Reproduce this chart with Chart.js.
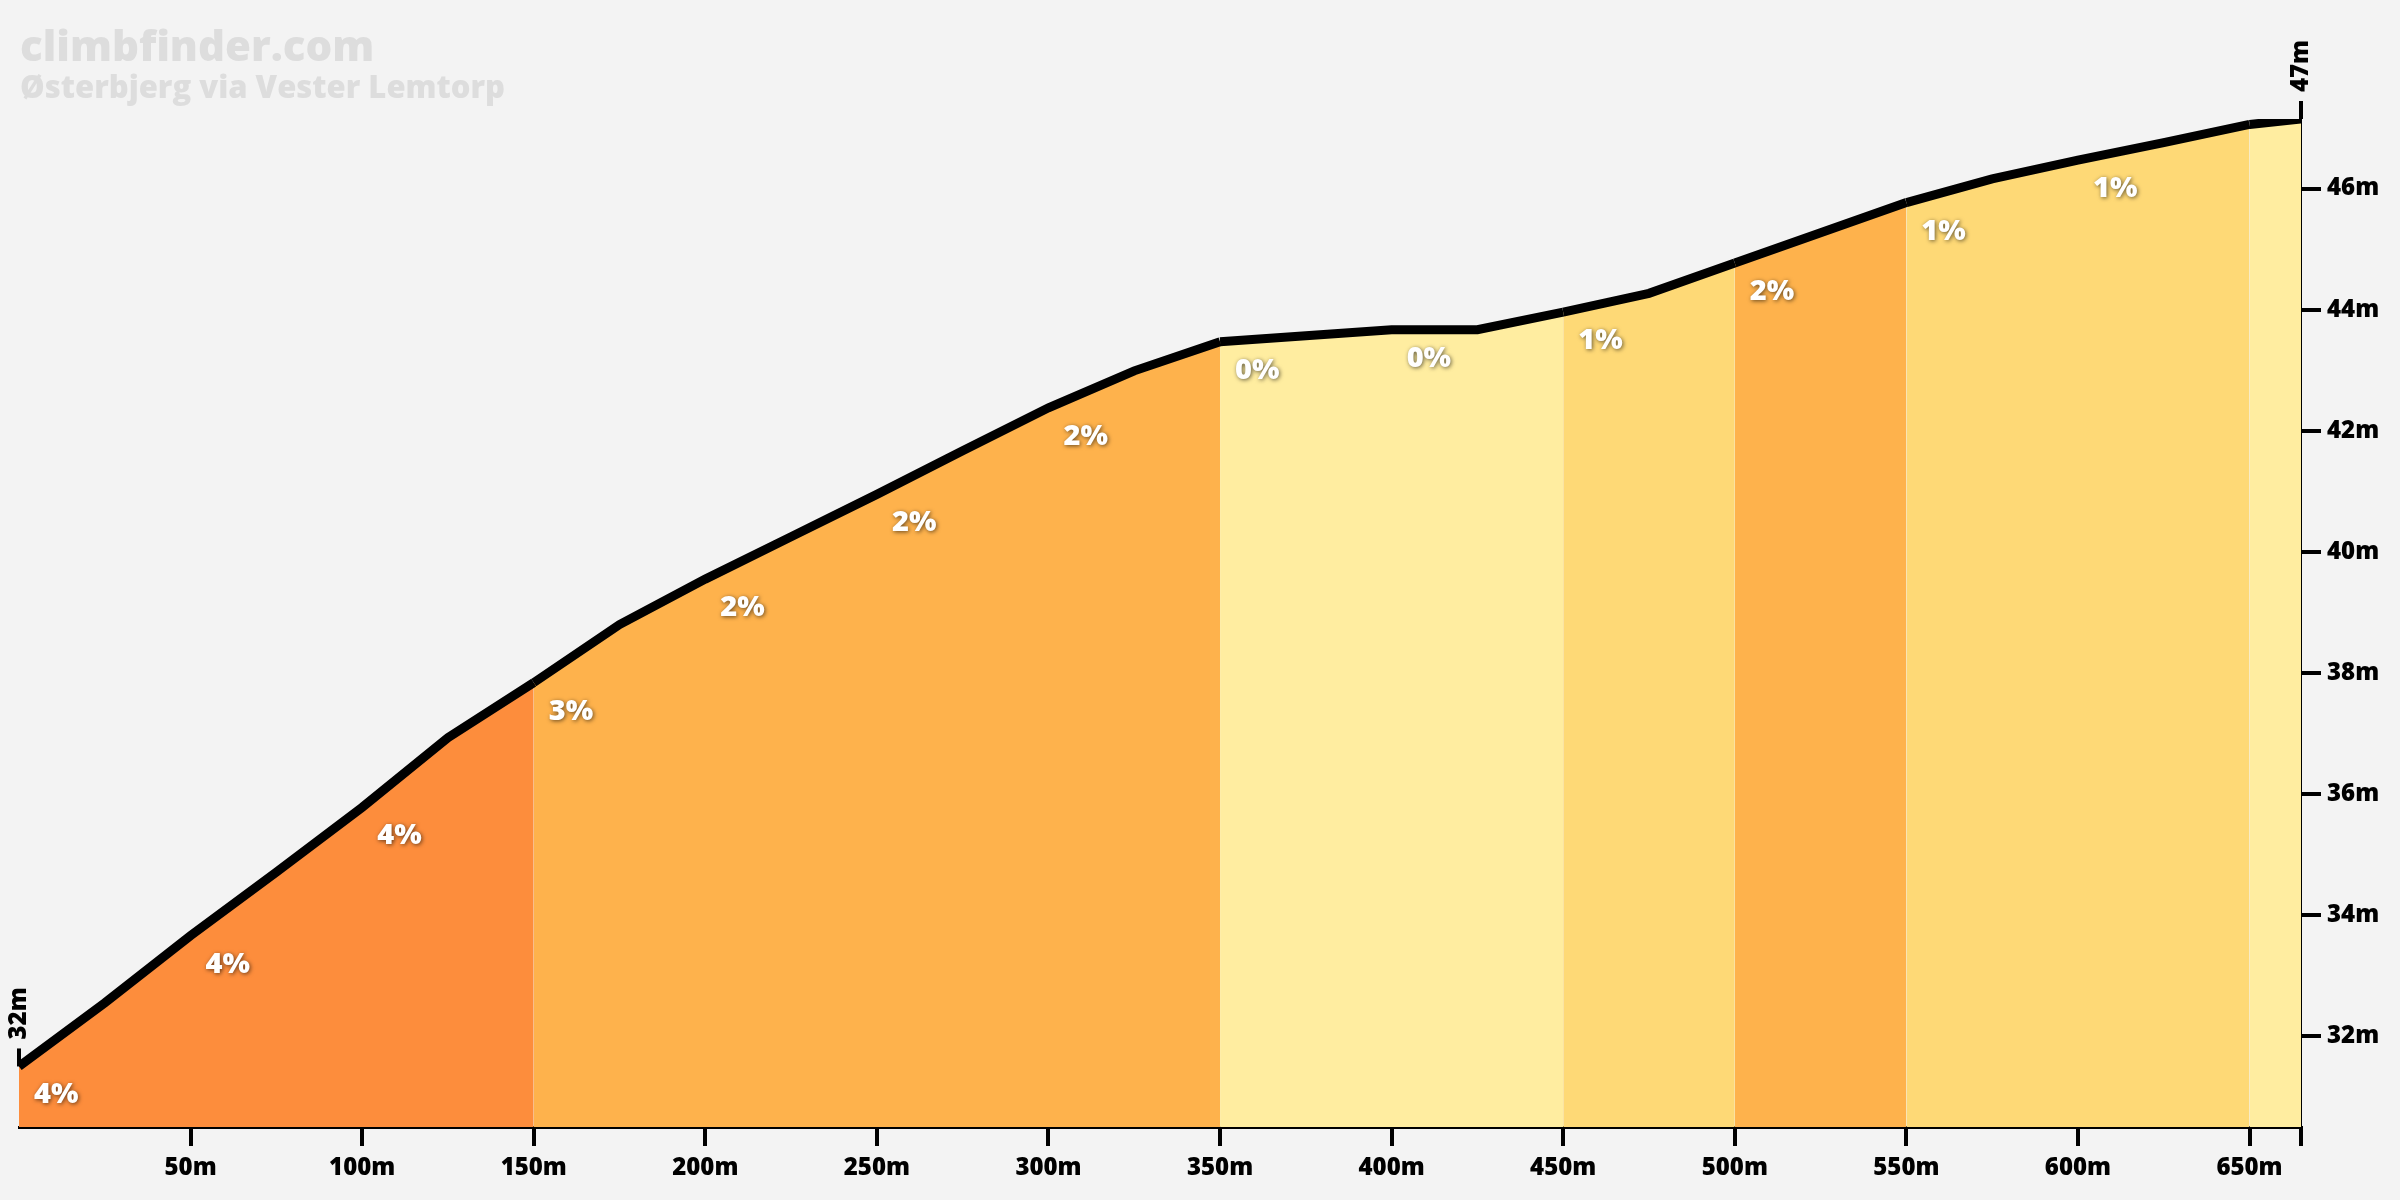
<!DOCTYPE html>
<html>
<head>
<meta charset="utf-8">
<script src="https://cdn.jsdelivr.net/npm/chart.js@4.4.1/dist/chart.umd.min.js"></script>
<style>
  html, body { margin: 0; padding: 0; background: #f3f3f3; }
  #wrap { width: 2400px; height: 1200px; }
</style>
</head>
<body>
<div id="wrap"><canvas id="profile" width="2400" height="1200"></canvas></div>
<script>
// profile points: distance (m) and elevation (m)
const distances = [0, 25, 50, 75, 100, 125, 150, 175, 200, 225, 250, 275, 300, 325, 350,
  375, 400, 425, 450, 475, 500, 525, 550, 575, 600, 625, 650, 665];
const elevations = [31.5, 32.55, 33.66, 34.71, 35.78, 36.93, 37.84, 38.8, 39.55, 40.25, 40.95, 41.67,
  42.38, 42.99, 43.47, 43.57, 43.67, 43.67, 43.96, 44.27, 44.77, 45.27, 45.77, 46.16, 46.47, 46.76, 47.06, 47.15];

// 50m sections and their gradient (%)
const sectionStarts = [0, 50, 100, 150, 200, 250, 300, 350, 400, 450, 500, 550, 600, 650];
const sectionGrades = [4, 4, 4, 3, 2, 2, 2, 0, 0, 1, 2, 1, 1, 0];

const xTickValues = [50, 100, 150, 200, 250, 300, 350, 400, 450, 500, 550, 600, 650, 665];
const xTickLabels = ["50m", "100m", "150m", "200m", "250m", "300m", "350m", "400m", "450m", "500m", "550m", "600m", "650m", ""];
const yTickValues = [32, 34, 36, 38, 40, 42, 44, 46];

const siteName = "climbfinder.com";
const climbName = "Østerbjerg via Vester Lemtorp";
const startLabel = "32m";
const endLabel = "47m";

const FONT = "'Open Sans', 'DejaVu Sans', sans-serif";

function gradeColor(g) {
  if (g >= 4) return "#fd8d3c";
  if (g >= 2) return "#feb24c";
  if (g >= 1) return "#fed976";
  return "#ffeda0";
}

function sectionIndex(x) {
  let idx = 0;
  for (let i = 0; i < sectionStarts.length; i++) {
    if (sectionStarts[i] <= x + 1e-6) idx = i;
  }
  return idx;
}

const overlay = {
  id: "overlay",
  beforeDraw(chart) {
    const ctx = chart.ctx;
    ctx.save();
    ctx.fillStyle = "#dddddd";
    ctx.textBaseline = "alphabetic";
    ctx.textAlign = "left";
    ctx.font = "800 42px " + FONT;
    ctx.fillText(siteName, 20, 61);
    ctx.font = "800 31px " + FONT;
    ctx.fillText(climbName, 20, 98);
    ctx.restore();
  },
  afterDatasetsDraw(chart) {
    const ctx = chart.ctx;
    const xs = chart.scales.x, ys = chart.scales.y;

    // gradient labels at start of each full section
    ctx.save();
    ctx.font = "800 29px " + FONT;
    ctx.fillStyle = "#ffffff";
    ctx.textAlign = "left";
    ctx.textBaseline = "alphabetic";
    ctx.shadowColor = "rgba(0,0,0,0.6)";
    ctx.shadowBlur = 4;
    ctx.shadowOffsetX = 1;
    ctx.shadowOffsetY = 1;
    sectionStarts.forEach((s, i) => {
      const next = i + 1 < sectionStarts.length ? sectionStarts[i + 1] : distances[distances.length - 1];
      if (next - s < 50) return;
      const k = distances.indexOf(s);
      const px = xs.getPixelForValue(s);
      const py = ys.getPixelForValue(elevations[k]);
      ctx.fillText(sectionGrades[i] + "%", px + 15, py + 37);
    });
    ctx.restore();

    // start / end elevation markers
    const marks = [
      [distances[0], elevations[0], startLabel],
      [distances[distances.length - 1], elevations[elevations.length - 1], endLabel]
    ];
    ctx.save();
    ctx.strokeStyle = "#000";
    ctx.fillStyle = "#000";
    ctx.lineWidth = 4;
    ctx.font = "800 24px " + FONT;
    marks.forEach(([d, e, txt]) => {
      const px = xs.getPixelForValue(d);
      const py = ys.getPixelForValue(e);
      ctx.beginPath();
      ctx.moveTo(px, py);
      ctx.lineTo(px, py - 18);
      ctx.stroke();
      ctx.save();
      ctx.translate(px, py - 27);
      ctx.rotate(-Math.PI / 2);
      ctx.textAlign = "left";
      ctx.textBaseline = "middle";
      ctx.fillText(txt, 0, 0);
      ctx.restore();
    });
    ctx.restore();
  }
};

new Chart(document.getElementById("profile"), {
  type: "line",
  data: {
    datasets: [{
      data: distances.map((d, i) => ({ x: d, y: elevations[i] })),
      borderColor: "#000",
      borderWidth: 9,
      backgroundColor: "#feb24c",
      fill: "start",
      pointRadius: 0,
      tension: 0,
      segment: {
        backgroundColor: c => gradeColor(sectionGrades[sectionIndex(c.p0.parsed.x)])
      }
    }]
  },
  options: {
    responsive: false,
    devicePixelRatio: 1,
    animation: false,
    layout: { padding: { left: 19, top: 119, right: 0, bottom: 0 } },
    plugins: {
      legend: { display: false },
      tooltip: { enabled: false },
      title: { display: false }
    },
    scales: {
      x: {
        type: "linear",
        min: 0,
        max: 665,
        afterBuildTicks: s => { s.ticks = xTickValues.map(v => ({ value: v })); },
        afterFit: s => { s.height = 73; },
        ticks: {
          autoSkip: false,
          maxRotation: 0,
          padding: 8,
          color: "#000",
          font: { family: FONT, size: 24, weight: "800" },
          callback: v => xTickLabels[xTickValues.indexOf(v)]
        },
        grid: { drawOnChartArea: false, drawTicks: true, tickLength: 19, lineWidth: 4, color: "#000" },
        border: { display: true, color: "#000", width: 3 }
      },
      y: {
        position: "right",
        min: 30.5,
        max: 47.15,
        afterBuildTicks: s => { s.ticks = yTickValues.map(v => ({ value: v })); },
        afterFit: s => { s.width = 99; },
        ticks: {
          padding: 6,
          color: "#000",
          font: { family: FONT, size: 24, weight: "800" },
          callback: v => v + "m"
        },
        grid: { drawOnChartArea: false, drawTicks: true, tickLength: 20, lineWidth: 4, color: "#000" },
        border: { display: true, color: "#000", width: 2 }
      }
    }
  },
  plugins: [overlay]
});
</script>
</body>
</html>
